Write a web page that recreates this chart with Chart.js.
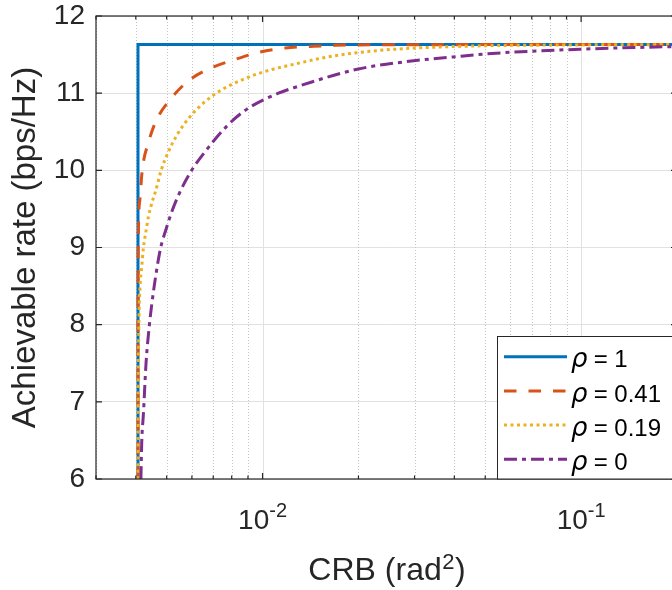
<!DOCTYPE html>
<html><head><meta charset="utf-8">
<style>
html,body{margin:0;padding:0;background:#fff;overflow:hidden;width:672px;height:590px}
canvas{display:block}
</style>
<script src="https://cdn.jsdelivr.net/npm/chart.js@4.4.1/dist/chart.umd.min.js"></script>
</head><body>
<canvas id="c" width="690" height="590"></canvas>
<script>
// ---------- data ----------
const seriesLabels = ['ρ = 1', 'ρ = 0.41', 'ρ = 0.19', 'ρ = 0'];

const rho1CRB  = [0.004064, 0.004064, 0.2];
const rho1Rate = [6.0, 11.63, 11.63];

const rho041CRB  = [0.004064, 0.004064, 0.00407, 0.004115, 0.00419, 0.004382, 0.00463, 0.00516, 0.005892, 0.006921, 0.008246, 0.009765, 0.01178, 0.01415, 0.01694, 0.02708, 0.2];
const rho041Rate = [6.0, 8.0, 9.0, 9.6, 10.0, 10.36, 10.64, 10.93, 11.17, 11.33, 11.44, 11.53, 11.585, 11.605, 11.62, 11.628, 11.63];

const rho019CRB  = [0.004064, 0.00407, 0.004094, 0.004124, 0.004175, 0.004227, 0.004297, 0.004382, 0.004487, 0.00463, 0.004806, 0.005061, 0.005374, 0.00585, 0.006516, 0.007345, 0.0087, 0.01054, 0.01242, 0.01557, 0.01981, 0.02519, 0.03202, 0.05062, 0.09929, 0.2];
const rho019Rate = [6.0, 7.0, 8.1, 8.49, 8.75, 9.0, 9.19, 9.40, 9.57, 9.75, 10.0, 10.24, 10.45, 10.67, 10.87, 11.03, 11.18, 11.30, 11.37, 11.46, 11.525, 11.565, 11.59, 11.615, 11.625, 11.63];

const rho0CRB  = [0.004151, 0.004174, 0.004227, 0.004307, 0.004414, 0.00457, 0.004789, 0.004964, 0.005185, 0.005533, 0.005989, 0.006484, 0.007711, 0.008909, 0.01122, 0.01253, 0.01981, 0.0298, 0.03978, 0.05062, 0.09929, 0.2];
const rho0Rate = [6.0, 6.46, 6.85, 7.5, 8.0, 8.5, 9.0, 9.22, 9.46, 9.74, 10.0, 10.2, 10.57, 10.79, 11.0, 11.07, 11.31, 11.42, 11.47, 11.51, 11.57, 11.605];

const xMajorTicks = [0.01, 0.1];
const xTickBase = ['10', '10'];
const xTickExp  = ['-2', '-1'];
const xMinorTicks = [0.003, 0.004, 0.005, 0.006, 0.007, 0.008, 0.009, 0.02, 0.03, 0.04, 0.05, 0.06, 0.07, 0.08, 0.09, 0.2];
const yTicks = [6, 7, 8, 9, 10, 11, 12];

const xTitleMain = 'CRB (rad';
const xTitleSup = '2';
const xTitleEnd = ')';
const yTitle = 'Achievable rate (bps/Hz)';

// ---------- styling ----------
const colors = ['#0072BD', '#D95319', '#EDB120', '#7E2F8E'];
const dashes = [[], [12.5, 12], [3, 3.5], [13, 5, 4, 5]];
const SANS = '"Liberation Sans", Arial, Helvetica, sans-serif';
const AX = '#262626';

function pts(xs, ys) { return xs.map((v, i) => ({x: v, y: ys[i]})); }
const seriesData = [pts(rho1CRB, rho1Rate), pts(rho041CRB, rho041Rate), pts(rho019CRB, rho019Rate), pts(rho0CRB, rho0Rate)];

const datasets = seriesData.map((d, i) => ({
  label: seriesLabels[i],
  data: d,
  borderColor: colors[i],
  backgroundColor: colors[i],
  borderWidth: 3,
  borderDash: dashes[i],
  borderCapStyle: 'butt',
  pointRadius: 0,
  tension: 0,
  cubicInterpolationMode: i === 0 ? 'default' : 'monotone',
  fill: false,
  order: 4 - i
}));

const framePlugin = {
  id: 'frame',
  beforeDatasetsDraw(chart) {
    const {ctx, chartArea: a, scales: {x}} = chart;
    ctx.save();
    ctx.strokeStyle = '#c4c4c4';
    ctx.lineWidth = 1;
    ctx.setLineDash([1, 2]);
    xMinorTicks.forEach(v => {
      const px = Math.round(x.getPixelForValue(v)) + 0.5;
      ctx.beginPath(); ctx.moveTo(px, a.top); ctx.lineTo(px, a.bottom); ctx.stroke();
    });
    ctx.setLineDash([]);
    ctx.strokeStyle = '#e1e1e1';
    xMajorTicks.forEach(v => {
      const px = Math.round(x.getPixelForValue(v)) + 0.5;
      ctx.beginPath(); ctx.moveTo(px, a.top); ctx.lineTo(px, a.bottom); ctx.stroke();
    });
    ctx.restore();
  },
  afterDatasetsDraw(chart) {
    const {ctx, chartArea: a, scales: {x, y}} = chart;
    ctx.save();
    ctx.strokeStyle = AX;
    ctx.lineWidth = 1.2;
    ctx.setLineDash([]);
    ctx.strokeRect(a.left, a.top, a.right - a.left, a.bottom - a.top);
    ctx.beginPath();
    yTicks.forEach(v => {
      const py = y.getPixelForValue(v);
      ctx.moveTo(a.left, py); ctx.lineTo(a.left + 6, py);
      ctx.moveTo(a.right, py); ctx.lineTo(a.right - 6, py);
    });
    xMajorTicks.forEach(v => {
      const px = x.getPixelForValue(v);
      ctx.moveTo(px, a.bottom); ctx.lineTo(px, a.bottom - 6);
      ctx.moveTo(px, a.top); ctx.lineTo(px, a.top + 6);
    });
    xMinorTicks.forEach(v => {
      const px = x.getPixelForValue(v);
      ctx.moveTo(px, a.bottom); ctx.lineTo(px, a.bottom - 3.5);
      ctx.moveTo(px, a.top); ctx.lineTo(px, a.top + 3.5);
    });
    ctx.stroke();

    ctx.fillStyle = AX;
    ctx.textBaseline = 'alphabetic';
    ctx.textAlign = 'left';
    xMajorTicks.forEach((v, i) => {
      const px = x.getPixelForValue(v);
      ctx.font = '28px ' + SANS;
      const wb = ctx.measureText(xTickBase[i]).width;
      ctx.font = '20px ' + SANS;
      const we = ctx.measureText(xTickExp[i]).width;
      const sx = px - (wb + we) / 2;
      ctx.font = '28px ' + SANS;
      ctx.fillText(xTickBase[i], sx, 529);
      ctx.font = '20px ' + SANS;
      ctx.fillText(xTickExp[i], sx + wb, 517);
    });

    ctx.font = '32px ' + SANS;
    const w1 = ctx.measureText(xTitleMain).width;
    const w3 = ctx.measureText(xTitleEnd).width;
    ctx.font = '22px ' + SANS;
    const w2 = ctx.measureText(xTitleSup).width;
    const cx = (a.left + a.right) / 2;
    const tx = cx - (w1 + w2 + w3) / 2;
    ctx.font = '32px ' + SANS;
    ctx.fillText(xTitleMain, tx, 580);
    ctx.font = '22px ' + SANS;
    ctx.fillText(xTitleSup, tx + w1 + 0.5, 569);
    ctx.font = '32px ' + SANS;
    ctx.fillText(xTitleEnd, tx + w1 + w2 + 1, 580);

    const lx0 = 497.5, ly0 = 336.5, lx1 = a.right - 2, ly1 = a.bottom;
    ctx.fillStyle = '#fff';
    ctx.fillRect(lx0, ly0, lx1 - lx0, ly1 - ly0);
    ctx.strokeStyle = AX;
    ctx.lineWidth = 1;
    ctx.strokeRect(lx0, ly0, lx1 - lx0, ly1 - ly0);
    chart.data.datasets.forEach((ds, i) => {
      const ly = 356.7 + 34.2 * i;
      ctx.save();
      ctx.strokeStyle = ds.borderColor;
      ctx.lineWidth = 3;
      ctx.lineCap = 'butt';
      ctx.setLineDash(ds.borderDash);
      ctx.beginPath(); ctx.moveTo(504, ly); ctx.lineTo(567, ly); ctx.stroke();
      ctx.restore();
      const lbl = ds.label;
      const base = 367.3 + 34.3 * i;
      ctx.fillStyle = '#000';
      ctx.font = 'oblique 26px "DejaVu Sans", sans-serif';
      ctx.fillText(lbl.charAt(0), 571, base);
      ctx.font = '24px ' + SANS;
      ctx.fillText(lbl.slice(1), 587, base);
    });
    ctx.restore();
  }
};

new Chart(document.getElementById('c'), {
  type: 'line',
  data: {datasets},
  options: {
    responsive: false,
    animation: false,
    devicePixelRatio: 1,
    layout: {padding: {top: 16, right: 13, left: 0, bottom: 0}},
    plugins: {legend: {display: false}, tooltip: {enabled: false}},
    scales: {
      x: {
        type: 'logarithmic',
        min: 0.003, max: 0.2,
        afterBuildTicks: s => { s.ticks = xMinorTicks.concat(xMajorTicks).sort((p, q) => p - q).map(v => ({value: v, major: xMajorTicks.includes(v)})); },
        afterFit: s => { s.height = 111; s.paddingLeft = 0; s.paddingRight = 0; s.paddingTop = 0; s.paddingBottom = 0; },
        ticks: {display: false},
        grid: {display: false},
        border: {display: false},
        title: {display: false}
      },
      y: {
        type: 'linear',
        min: 6, max: 12,
        afterBuildTicks: s => { s.ticks = yTicks.map(v => ({value: v})); },
        afterFit: s => { s.width = 96; s.paddingTop = 0; s.paddingBottom = 0; s.paddingLeft = 0; s.paddingRight = 0; },
        ticks: {color: AX, padding: 11, font: {family: SANS, size: 28, lineHeight: 1}},
        grid: {color: '#e1e1e1', lineWidth: 1, drawTicks: false},
        border: {display: false},
        title: {display: true, text: yTitle, color: AX, font: {family: SANS, size: 33}, padding: {top: 6, bottom: 0}}
      }
    }
  },
  plugins: [framePlugin]
});
</script>
</body></html>
